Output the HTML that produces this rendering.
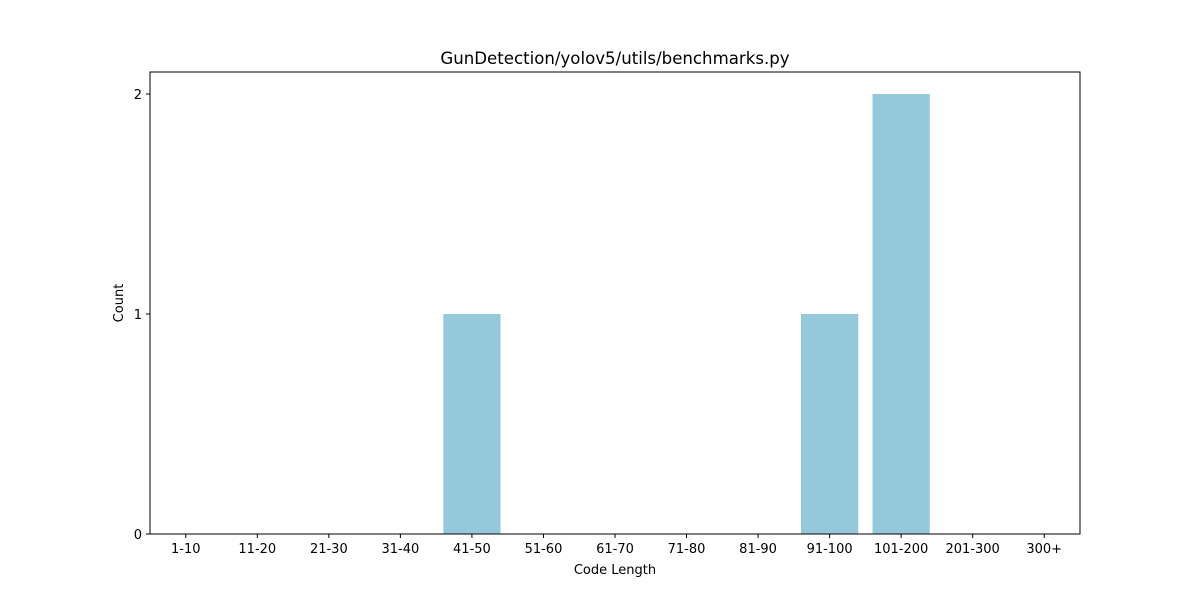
<!DOCTYPE html>
<html><head><meta charset="utf-8"><style>
body{margin:0;background:#fff;}
svg{display:block;font-family:"DejaVu Sans","Liberation Sans",sans-serif;}
</style></head><body>
<svg id="chart" width="1200" height="600">
<rect x="0" y="0" width="1200" height="600" fill="#fff"/>
<text x="615" y="64" text-anchor="middle" font-size="16.6" fill="#000">GunDetection/yolov5/utils/benchmarks.py</text>
<g id="bars"></g>
<g id="xticks"></g>
<g id="yticks"></g>
<rect x="150" y="72" width="930" height="462" fill="none" stroke="#000" stroke-width="1"/>
<text x="615" y="574" text-anchor="middle" font-size="13">Code Length</text>
<text x="123" y="303" text-anchor="middle" font-size="13" transform="rotate(-90 123 303)">Count</text>
</svg>
<script>
const categories = ["1-10","11-20","21-30","31-40","41-50","51-60","61-70","71-80","81-90","91-100","101-200","201-300","300+"];
const counts = [0,0,0,0,1,0,0,0,0,1,2,0,0];
const yTicks = [0,1,2];
const L=150,R=1080,T=72,B=534,yMax=2.1;
const ns="http://www.w3.org/2000/svg";
const xs=i=>L+(i+0.5)*(R-L)/categories.length;
const ys=v=>B-v/yMax*(B-T);
const bw=0.8*(R-L)/categories.length;
const bars=document.getElementById('bars'),xt=document.getElementById('xticks'),yt=document.getElementById('yticks');
categories.forEach((c,i)=>{
  const r=document.createElementNS(ns,'rect');
  r.setAttribute('x',xs(i)-bw/2);r.setAttribute('width',bw);
  r.setAttribute('y',ys(counts[i]));r.setAttribute('height',B-ys(counts[i]));
  r.setAttribute('fill','#96c8dc');
  
  
  bars.appendChild(r);
  const l=document.createElementNS(ns,'line');
  l.setAttribute('x1',xs(i));l.setAttribute('x2',xs(i));l.setAttribute('y1',B);l.setAttribute('y2',B+4);l.setAttribute('stroke','#000');
  
  
  xt.appendChild(l);
  const t=document.createElementNS(ns,'text');
  t.setAttribute('x',xs(i));t.setAttribute('y',B+19);t.setAttribute('text-anchor','middle');t.setAttribute('font-size','13');
  t.textContent=c;
  
  
  xt.appendChild(t);
});
yTicks.forEach(v=>{
  const l=document.createElementNS(ns,'line');
  l.setAttribute('x1',L-4);l.setAttribute('x2',L);l.setAttribute('y1',ys(v));l.setAttribute('y2',ys(v));l.setAttribute('stroke','#000');
  
  
  yt.appendChild(l);
  const t=document.createElementNS(ns,'text');
  t.setAttribute('x',L-8);t.setAttribute('y',ys(v)+5);t.setAttribute('text-anchor','end');t.setAttribute('font-size','13');
  t.textContent=v;
  
  
  yt.appendChild(t);
});
</script>
</body></html>
